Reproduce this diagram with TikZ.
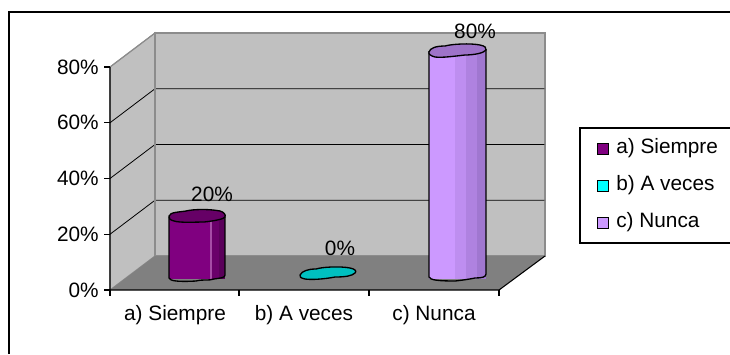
\documentclass[tikz,border=0pt]{standalone}
\usepackage{fontspec}
\setmainfont{Liberation Sans}
\begin{document}
\begin{tikzpicture}[x=0.75pt,y=-0.75pt,
  lbl/.style={inner sep=0pt,font=\fontsize{15.6}{18}\selectfont},
  wall/.style={fill=wallgray,draw=edgegray,line width=0.8pt},
  grid/.style={draw=black,line width=0.6pt},
  tick/.style={draw=black,line width=0.8pt},
  cylout/.style={draw=black,line width=1pt,line join=round},
  legsq/.style={draw=black,line width=0.8pt,minimum size=8pt,inner sep=0pt}]
\definecolor{wallgray}{HTML}{C0C0C0}
\definecolor{floorgray}{HTML}{808080}
\definecolor{edgegray}{HTML}{8C8C8C}
\definecolor{purA}{HTML}{800080}
\definecolor{purAtop}{HTML}{660066}
\definecolor{purAd}{HTML}{6A006A}
\definecolor{purAdd}{HTML}{5A005A}
\definecolor{cyanB}{HTML}{00C0C0}
\definecolor{cyanL}{HTML}{00FFFF}
\definecolor{lavC}{HTML}{CC99FF}
\definecolor{lavCtop}{HTML}{9E73C9}
\definecolor{lavC1}{HTML}{BE8EF0}
\definecolor{lavC2}{HTML}{AF82E0}
\definecolor{lavC3}{HTML}{A077D0}
\useasboundingbox (0,0) rectangle (730,354);
% outer frame (clipped)
\draw[black,line width=0.8pt] (9,354) -- (9,12) -- (730,12);
% walls
\draw[wall] (110,290) -- (110,67) -- (155,33) -- (155,256) -- cycle;
\draw[wall] (155,33) rectangle (545,256);
\fill[floorgray] (110,290) -- (155,256) -- (545,256) -- (499,290) -- cycle;
% grid lines
\foreach \f/\b in {234.25/200.25,178.5/144.5,122.75/88.75}{
  \draw[grid] (110,\f) -- (155,\b) -- (545,\b);
}
\draw[edgegray,line width=0.8pt] (110,67) -- (155,33) -- (545,33) -- (545,256);
\draw[edgegray,line width=0.8pt] (155,33) -- (155,256);
% axes
\draw[black,line width=0.8pt] (110,67) -- (110,290) -- (499,290) -- (545,256);
\foreach \y in {290,234.25,178.5,122.75,67}{ \draw[tick] (104,\y) -- (110,\y); }
\foreach \x in {110,239,369,499}{ \draw[tick] (\x,290) -- (\x,296); }
% y labels
\node[lbl,anchor=east] (y0) at (99,290) {0\%};
\node[lbl,anchor=east] (y20) at (99,234.25) {20\%};
\node[lbl,anchor=east] (y40) at (99,178.5) {40\%};
\node[lbl,anchor=east] (y60) at (99,122.75) {60\%};
\node[lbl,anchor=east] (y80) at (99,67) {80\%};
% category labels
\node[lbl] (ca) at (175,315) {a) Siempre};
\node[lbl] (cb) at (304,315) {b) A veces};
\node[lbl] (cc) at (434,315) {c) Nunca};
% bar a
\fill[purA] (169,217) rectangle (210,279);
\fill[purA!70!white] (210,217) rectangle (211.5,279);
\fill[purAd] (211.5,217) rectangle (219,279);
\fill[purAdd] (219,217) rectangle (225,279);
\draw[cylout] (169,217) -- (169,278) .. controls (170,281) and (178,282) .. (196,281)
  .. controls (204,279) and (208,281) .. (214,279) .. controls (220,278) and (225,278) .. (225,275) -- (225,217);
\draw[cylout,fill=purAtop] (169,216) .. controls (170,212) and (180,212) .. (186,211)
  .. controls (194,209) and (210,209) .. (220,211) .. controls (224,212) and (226,215) .. (225,217)
  .. controls (224,219) and (214,221) .. (204,222) .. controls (196,222) and (180,223) .. (174,221)
  .. controls (170,220) and (168,218) .. (169,216) -- cycle;
\node[lbl] (va) at (212,194) {20\%};
% bar b
\draw[cylout,fill=cyanB] (300,275) .. controls (302,271) and (308,269) .. (316,269)
  .. controls (322,267) and (340,266) .. (350,268) .. controls (355,269) and (357,271) .. (355,273)
  .. controls (352,276) and (345,277) .. (335,277) .. controls (325,279) and (312,280) .. (305,279)
  .. controls (301,278) and (299,277) .. (300,275) -- cycle;
\node[lbl] (vb) at (340,248) {0\%};
% bar c
\fill[lavC] (429,51) rectangle (455,279);
\fill[lavC1] (455,51) rectangle (466,279);
\fill[lavC2] (466,51) rectangle (477,279);
\fill[lavC3] (477,51) rectangle (486,279);
\draw[cylout] (429,51) -- (429,277) .. controls (430,280) and (438,281) .. (455,281)
  .. controls (464,280) and (470,279) .. (475,278) .. controls (482,278) and (486,277) .. (486,274) -- (486,49);
\draw[cylout,fill=lavCtop] (429,52) .. controls (430,48) and (436,46) .. (445,46)
  .. controls (452,44) and (470,43) .. (480,45) .. controls (485,46) and (487,48) .. (486,50)
  .. controls (484,53) and (474,55) .. (465,55) .. controls (456,56) and (442,58) .. (435,57)
  .. controls (431,56) and (428,54) .. (429,52) -- cycle;
\node[lbl] (vc) at (475,31) {80\%};
% legend
\draw[black,line width=0.8pt] (733,128) -- (580,128) -- (580,243) -- (733,243);
\node[legsq,fill=purA] (la) at (603,149) {};
\node[legsq,fill=cyanL] (lb) at (603,186) {};
\node[legsq,fill=lavC] (lc) at (603,223) {};
\node[lbl,anchor=west] (ta) at (616,148) {a) Siempre};
\node[lbl,anchor=west] (tb) at (616,185) {b) A veces};
\node[lbl,anchor=west] (tc) at (616,222) {c) Nunca};
\end{tikzpicture}
\end{document}
